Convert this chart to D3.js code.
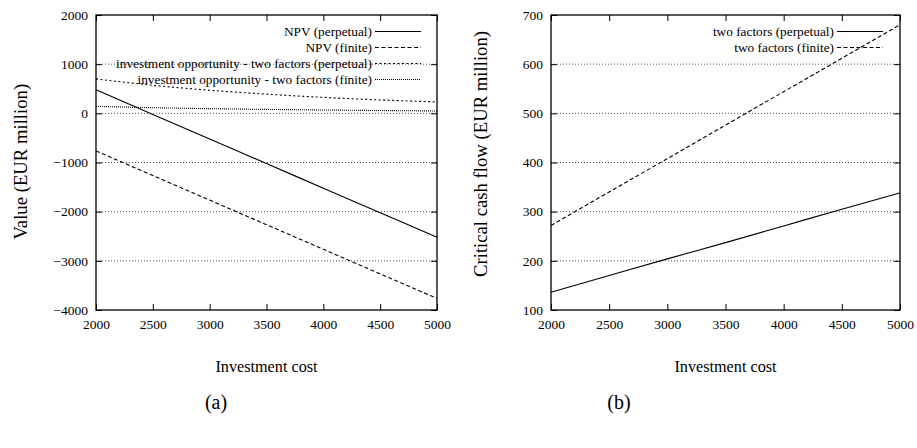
<!DOCTYPE html>
<html><head><meta charset="utf-8">
<script src="https://cdn.jsdelivr.net/npm/d3@7"></script>
<style>body{margin:0;background:#fff}svg{display:block}</style>
</head><body><svg id="c" width="917" height="448"></svg>
<script>
const investment = [2000, 2500, 3000, 3500, 4000, 4500, 5000];
const npvPerpetual = [478, -22, -522, -1022, -1522, -2022, -2522];
const npvFinite = [-765, -1265, -1765, -2265, -2765, -3265, -3765];
const optPerpetual = [700, 570, 470, 390, 325, 272, 232];
const optFinite = [142, 115, 95, 80, 68, 57, 48];
const critPerpetual = [136, 170, 204, 237, 271, 305, 338];
const critFinite = [272, 340, 408, 476, 544, 612, 680];
const xTicks = [2000, 2500, 3000, 3500, 4000, 4500, 5000];
const yTicksA = [-4000, -3000, -2000, -1000, 0, 1000, 2000];
const yTicksB = [100, 200, 300, 400, 500, 600, 700];

const FONT = "'Liberation Serif', Tinos, 'Times New Roman', Times, 'DejaVu Serif', serif";
const svg = d3.select("#c");

function panel(o) {
  const g = svg.append("g");
  const x = d3.scaleLinear().domain([2000, 5000]).range([o.x0, o.x1]);
  const y = d3.scaleLinear().domain(o.ydom).range([310, 15]);
  g.selectAll(".grid").data(o.yTicks.filter(v => v !== o.ydom[0] && v !== o.ydom[1])).enter().append("line")
    .attr("x1", o.x0).attr("x2", o.x1).attr("y1", d => y(d)).attr("y2", d => y(d))
    .attr("stroke", "#555").attr("stroke-width", 1).attr("stroke-dasharray", "1,2");
  const ax = [
    [d3.axisBottom(x).tickValues(xTicks).tickSize(-6).tickPadding(9).tickFormat(d3.format("d")), `translate(0,310)`],
    [d3.axisTop(x).tickValues(xTicks).tickSize(-6).tickFormat(() => ""), `translate(0,15)`],
    [d3.axisLeft(y).tickValues(o.yTicks).tickSize(-6).tickPadding(8).tickFormat(d3.format("d")), `translate(${o.x0},0)`],
    [d3.axisRight(y).tickValues(o.yTicks).tickSize(-6).tickFormat(() => ""), `translate(${o.x1},0)`]
  ];
  ax.forEach(([a, t]) => {
    const s = g.append("g").attr("transform", t).call(a);
    s.attr("font-family", null).attr("font-size", null);
    s.select(".domain").remove();
    s.selectAll("line").attr("stroke", "#000").attr("stroke-width", 1);
    s.selectAll("text").attr("fill", "#000").style("font-family", FONT).style("font-size", "13.5px");
  });
  g.append("rect").attr("x", o.x0).attr("y", 15).attr("width", o.x1 - o.x0).attr("height", 295)
    .attr("fill", "none").attr("stroke", "#000").attr("stroke-width", 1.3);
  const line = d3.line().x((d, i) => x(investment[i])).y(d => y(d)).curve(d3.curveMonotoneX);
  o.series.forEach((s, k) => {
    g.append("path").datum(s.values).attr("d", line).attr("fill", "none").attr("stroke", "#000")
      .attr("stroke-width", 1.1).attr("stroke-dasharray", s.dash);
    const ly = 31.5 + k * 16;
    g.append("text").attr("x", o.legX - 3).attr("y", ly).attr("dy", "0.35em").attr("text-anchor", "end")
      .style("font-family", FONT).style("font-size", "13.3px").text(s.name);
    g.append("line").attr("x1", o.legX).attr("x2", o.legX + 46).attr("y1", ly).attr("y2", ly)
      .attr("stroke", "#000").attr("stroke-width", 1.1).attr("stroke-dasharray", s.dash);
  });
  g.append("text").attr("x", (o.x0 + o.x1) / 2).attr("y", 366).attr("dy", "0.35em").attr("text-anchor", "middle")
    .style("font-family", FONT).style("font-size", "16.2px").text("Investment cost");
  g.append("text").attr("transform", `translate(${o.ylx},${o.yly}) rotate(-90)`).attr("dy", "0.35em")
    .attr("text-anchor", "middle").style("font-family", FONT).style("font-size", "18.7px").text(o.ylabel);
  g.append("text").attr("x", o.capX).attr("y", 402).attr("dy", "0.35em").attr("text-anchor", "middle")
    .style("font-family", FONT).style("font-size", "20px").text(o.cap);
}

panel({
  x0: 96, x1: 437, ydom: [-4000, 2000], yTicks: yTicksA, legX: 375, ylx: 20, yly: 161.7,
  ylabel: "Value (EUR million)", cap: "(a)", capX: 216,
  series: [
    { name: "NPV (perpetual)", values: npvPerpetual, dash: null },
    { name: "NPV (finite)", values: npvFinite, dash: "4,2.5" },
    { name: "investment opportunity - two factors (perpetual)", values: optPerpetual, dash: "2,2.5" },
    { name: "investment opportunity - two factors (finite)", values: optFinite, dash: "1,1" }
  ]
});
panel({
  x0: 551, x1: 900, ydom: [100, 700], yTicks: yTicksB, legX: 837, ylx: 480, yly: 154,
  ylabel: "Critical cash flow (EUR million)", cap: "(b)", capX: 619,
  series: [
    { name: "two factors (perpetual)", values: critPerpetual, dash: null },
    { name: "two factors (finite)", values: critFinite, dash: "4,2.5" }
  ]
});
</script></body></html>
